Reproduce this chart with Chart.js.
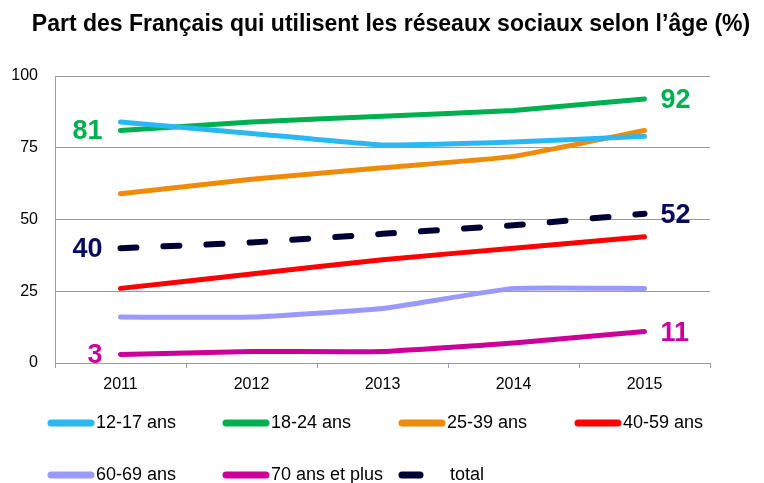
<!DOCTYPE html>
<html><head><meta charset="utf-8">
<script src="https://cdn.jsdelivr.net/npm/chart.js@4"></script>
<style>html,body{margin:0;padding:0;background:#fff}#wrap{width:764px;height:483px}</style>
</head><body><div id="wrap"><canvas id="c" width="764" height="483"></canvas></div>
<script>
const years = ['2011','2012','2013','2014','2015'];
const seriesNames = ['12-17 ans','18-24 ans','25-39 ans','40-59 ans','60-69 ans','70 ans et plus','total'];
const s1217 = [84, 80, 76, 77, 79];
const s1824 = [81, 84, 86, 88, 92];
const s2539 = [59, 64, 68, 72, 81];
const s4059 = [26, 31, 36, 40, 44];
const s6069 = [16, 16, 19, 26, 26];
const s70 = [3, 4, 4, 7, 11];
const sTotal = [40, 42, 45, 48, 52];
const yTicks = [0, 25, 50, 75, 100];
const titleText = 'Part des Français qui utilisent les réseaux sociaux selon l’âge (%)';

const colors = ['#2ab8f5','#00b050','#ee8c0a','#ff0000','#9999ff','#cc0099','#000033'];
const allData = [s1217,s1824,s2539,s4059,s6069,s70,sTotal];
const datasets = allData.map((d,i)=>({
  label: seriesNames[i], data: d, borderColor: colors[i], backgroundColor: colors[i],
  borderWidth: i===6 ? 6 : 5, pointRadius: 0, tension: 0.12, borderCapStyle: 'round',
  borderDash: i===6 ? [16, 27] : [], fill: false
}));

const FONT = '"Liberation Sans", Arial, sans-serif';
const extras = {
  id: 'extras',
  afterDraw(chart) {
    const ctx = chart.ctx;
    ctx.save();
    // title
    ctx.font = 'bold 23px ' + FONT;
    ctx.fillStyle = '#000';
    ctx.textAlign = 'center'; ctx.textBaseline = 'middle';
    ctx.fillText(titleText, 391, 25);
    // value labels
    const xs = chart.scales.x, ys = chart.scales.y;
    const lab = [[1,'#00b050'],[6,'#0a0a5c'],[5,'#cc0099']];
    ctx.font = 'bold 27px ' + FONT;
    lab.forEach(([i,col])=>{
      const d = allData[i];
      ctx.fillStyle = col;
      ctx.textAlign = 'right';
      ctx.fillText(String(d[0]), xs.getPixelForValue(0) - 18, ys.getPixelForValue(d[0]) + 1);
      ctx.textAlign = 'left';
      ctx.fillText(String(d[4]), xs.getPixelForValue(4) + 16, ys.getPixelForValue(d[4]) + 2);
    });
    // legend
    ctx.font = '18px ' + FONT;
    ctx.textAlign = 'left'; ctx.textBaseline = 'middle';
    const colX = [47, 222, 398, 574];
    const rowY = [423, 475];
    seriesNames.forEach((n,i)=>{
      const x = colX[i%4], y = rowY[Math.floor(i/4)];
      ctx.strokeStyle = colors[i]; ctx.lineWidth = 7; ctx.lineCap = 'round';
      ctx.beginPath();
      if (i===6) { ctx.moveTo(x+4, y); ctx.lineTo(x+22, y); }
      else { ctx.moveTo(x+4, y); ctx.lineTo(x+44, y); }
      ctx.stroke();
      ctx.fillStyle = '#000';
      ctx.fillText(n, i===6 ? x+52 : x+49, y);
    });
    ctx.restore();
  }
};

new Chart(document.getElementById('c'), {
  type: 'line',
  data: { labels: years, datasets },
  options: {
    responsive: false, animation: false, devicePixelRatio: 1,
    layout: { padding: { left: 0, right: 54, top: 76, bottom: 90 } },
    plugins: { legend: { display: false }, title: { display: false }, tooltip: { enabled: false } },
    scales: {
      x: {
        type: 'category', offset: true,
        grid: { offset: true, drawOnChartArea: false, drawTicks: true, tickLength: 5, color: '#9a9aae', tickColor: '#9a9aae' },
        border: { color: '#9a9aae', width: 1 },
        ticks: { font: { size: 16, family: FONT }, color: '#000', padding: 7 },
        afterFit(s) { s.height = 30; }
      },
      y: {
        min: 0, max: 100,
        afterBuildTicks(s) { s.ticks = yTicks.map(v=>({value:v})); },
        grid: { color: '#9a9aae', drawTicks: false, lineWidth: 1 },
        border: { color: '#9a9aae', width: 1 },
        ticks: { font: { size: 16, family: FONT }, color: '#000', padding: 17 },
        afterFit(s) { s.width = 55; }
      }
    }
  },
  plugins: [extras]
});
</script>
</body></html>
